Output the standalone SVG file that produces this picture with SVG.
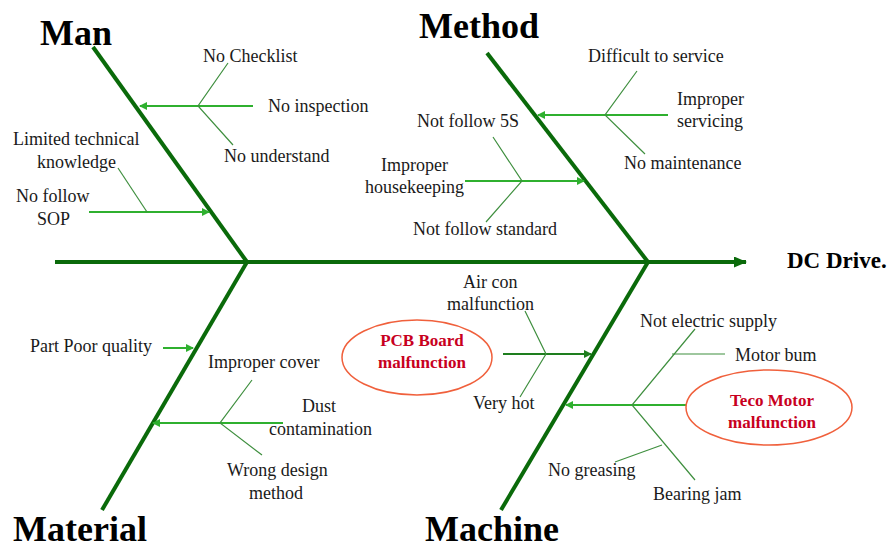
<svg xmlns="http://www.w3.org/2000/svg" width="891" height="550" viewBox="0 0 891 550">
<style>
.t{font-family:"Liberation Serif","Times New Roman",serif;font-size:18px;fill:#1a1a1a}
.h{font-family:"Liberation Serif","Times New Roman",serif;font-size:36px;font-weight:bold;fill:#000}
.r{font-family:"Liberation Serif","Times New Roman",serif;font-size:17px;font-weight:bold;fill:#c8001e;text-anchor:middle}
.bone{stroke:#0a6a0a;stroke-width:4;fill:none;stroke-linecap:butt}
.sub{stroke:#2fb02f;stroke-width:2;fill:none}
.subd{stroke:#1e7e1e;stroke-width:2;fill:none}
.br{stroke:#3f8f3f;stroke-width:1.2;fill:none}
.ell{fill:none;stroke:#f0603c;stroke-width:1.5}
</style>
<defs>
<marker id="ah" markerWidth="8" markerHeight="8" refX="7" refY="4" orient="auto" markerUnits="userSpaceOnUse"><path d="M0,0 L8,4 L0,8 Z" fill="#2fb02f"/></marker>
<marker id="ahd" markerWidth="8" markerHeight="8" refX="7" refY="4" orient="auto" markerUnits="userSpaceOnUse"><path d="M0,0 L8,4 L0,8 Z" fill="#1e7e1e"/></marker>
<marker id="big" markerWidth="13" markerHeight="11" refX="12" refY="5.5" orient="auto" markerUnits="userSpaceOnUse"><path d="M0,0 L13,5.5 L0,11 Z" fill="#0a6a0a"/></marker>
</defs>
<rect width="891" height="550" fill="#fff"/>
<g id="connectors">
<line class="bone" x1="55" y1="262" x2="746" y2="262" marker-end="url(#big)"/>
<line class="bone" x1="93" y1="47" x2="247" y2="262"/>
<line class="bone" x1="487" y1="53" x2="648" y2="262"/>
<line class="bone" x1="247" y1="262" x2="102" y2="510"/>
<line class="bone" x1="648" y1="262" x2="501" y2="510"/>
<line class="sub" x1="253" y1="106" x2="140" y2="106" marker-end="url(#ah)"/>
<polyline class="br" points="228,63 198,106 233,145"/>
<line class="sub" x1="89" y1="212" x2="209" y2="212" marker-end="url(#ah)"/>
<line class="br" x1="147" y1="212" x2="118" y2="168"/>
<line class="sub" x1="668" y1="115" x2="538" y2="115" marker-end="url(#ah)"/>
<polyline class="br" points="637,71 605,115 645,154"/>
<line class="sub" x1="465" y1="181" x2="584" y2="181" marker-end="url(#ah)"/>
<polyline class="br" points="493,137 522,181 486,222"/>
<line class="sub" x1="163" y1="348" x2="193" y2="348" marker-end="url(#ah)"/>
<line class="sub" x1="283" y1="423" x2="153" y2="423" marker-end="url(#ah)"/>
<polyline class="br" points="252,380 220,423 262,455"/>
<line class="subd" x1="503" y1="354" x2="591" y2="354" marker-end="url(#ahd)"/>
<polyline class="br" points="525,311 546,354 520,397"/>
<line class="sub" x1="686" y1="405" x2="566" y2="405" marker-end="url(#ah)"/>
<polyline class="br" points="695,329 632,405 695,480"/>
<line class="br" x1="672" y1="354" x2="725" y2="354"/>
<line class="br" x1="662" y1="445" x2="615" y2="462"/>
</g>
<g id="head-man"><text class="h" x="40" y="45">Man</text></g>
<g id="head-method"><text class="h" x="419" y="38">Method</text></g>
<g id="head-material"><text class="h" x="13" y="541">Material</text></g>
<g id="head-machine"><text class="h" x="425" y="541">Machine</text></g>
<g id="effect"><text x="787" y="268" style="font-family:'Liberation Serif','Times New Roman',serif;font-size:23px;font-weight:bold;fill:#000">DC Drive.</text></g>
<g id="man-causes">
<text class="t" x="203" y="62">No Checklist</text>
<text class="t" x="268" y="112">No inspection</text>
<text class="t" x="224" y="162">No understand</text>
<text class="t" x="13" y="145">Limited technical</text>
<text class="t" x="37" y="168">knowledge</text>
<text class="t" x="16" y="202">No follow</text>
<text class="t" x="37" y="225">SOP</text>
</g>
<g id="method-causes">
<text class="t" x="588" y="62">Difficult to service</text>
<text class="t" x="677" y="105">Improper</text>
<text class="t" x="677" y="127">servicing</text>
<text class="t" x="624" y="169">No maintenance</text>
<text class="t" x="417" y="127">Not follow 5S</text>
<text class="t" x="381" y="171">Improper</text>
<text class="t" x="365" y="193">housekeeping</text>
<text class="t" x="413" y="235">Not follow standard</text>
</g>
<g id="material-causes">
<text class="t" x="30" y="352">Part Poor quality</text>
<text class="t" x="208" y="368">Improper cover</text>
<text class="t" x="302" y="412">Dust</text>
<text class="t" x="269" y="435">contamination</text>
<text class="t" x="227" y="476">Wrong design</text>
<text class="t" x="249" y="499">method</text>
</g>
<g id="machine-causes">
<text class="t" x="463" y="288">Air con</text>
<text class="t" x="447" y="310">malfunction</text>
<text class="t" x="473" y="409">Very hot</text>
<text class="t" x="640" y="327">Not electric supply</text>
<text class="t" x="735" y="361">Motor bum</text>
<text class="t" x="548" y="476">No greasing</text>
<text class="t" x="653" y="500">Bearing jam</text>
</g>
<g id="pcb">
<ellipse class="ell" cx="417" cy="357.5" rx="75" ry="37.5"/>
<text class="r" x="422" y="346">PCB Board</text>
<text class="r" x="422" y="368">malfunction</text>
</g>
<g id="teco">
<ellipse class="ell" cx="769" cy="407.5" rx="83" ry="37.5"/>
<text class="r" x="772" y="406">Teco Motor</text>
<text class="r" x="772" y="428">malfunction</text>
</g>
</svg>
